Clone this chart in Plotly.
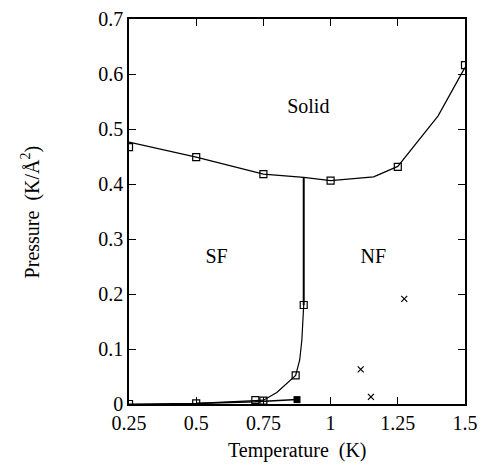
import plotly.graph_objects as go

# Solid / liquid boundary (line) and simulated points (squares)
melt_T = [0.25, 0.5, 0.75, 0.9, 1.0, 1.16, 1.25, 1.4, 1.5]
melt_P = [0.476, 0.449, 0.418, 0.412, 0.406, 0.413, 0.432, 0.524, 0.612]
melt_pts_T = [0.25, 0.5, 0.75, 1.0, 1.25, 1.5]
melt_pts_P = [0.467, 0.449, 0.418, 0.406, 0.431, 0.616]

# SF / NF boundary (vertical line)
lam_T = [0.9, 0.9]
lam_P = [0.18, 0.412]

# Lower (vapour) curve
vap_T = [0.25, 0.5, 0.72, 0.75, 0.8, 0.87, 0.885, 0.893, 0.9]
vap_P = [0.0, 0.001, 0.006, 0.007, 0.021, 0.052, 0.08, 0.116, 0.18]
vap_pts_T = [0.25, 0.5, 0.72, 0.75, 0.87, 0.9]
vap_pts_P = [0.0, 0.001, 0.007, 0.006, 0.052, 0.18]

# Second lower line ending in a filled square
low_T = [0.5, 0.72, 0.875]
low_P = [0.001, 0.004, 0.008]

# Crosses
x_T = [1.274, 1.112, 1.15]
x_P = [0.191, 0.063, 0.013]

# Region labels
lab_text = ["Solid", "SF", "NF"]
lab_T = [0.917, 0.576, 1.159]
lab_P = [0.538, 0.265, 0.265]

xticks = [0.25, 0.5, 0.75, 1.0, 1.25, 1.5]
xtick_text = ["0.25", "0.5", "0.75", "1", "1.25", "1.5"]
yticks = [0, 0.1, 0.2, 0.3, 0.4, 0.5, 0.6, 0.7]
ytick_text = ["0", "0.1", "0.2", "0.3", "0.4", "0.5", "0.6", "0.7"]

FONT = "Liberation Serif"
FS = 20
fig = go.Figure()
fig.add_trace(go.Scatter(x=melt_T, y=melt_P, mode="lines",
                         line=dict(color="black", width=1.2)))
fig.add_trace(go.Scatter(x=melt_pts_T, y=melt_pts_P, mode="markers",
                         marker=dict(symbol="square-open", size=7, color="black",
                                     line=dict(width=1.2))))
fig.add_trace(go.Scatter(x=lam_T, y=lam_P, mode="lines",
                         line=dict(color="black", width=2)))
fig.add_trace(go.Scatter(x=vap_T, y=vap_P, mode="lines",
                         line=dict(color="black", width=1.2)))
fig.add_trace(go.Scatter(x=vap_pts_T, y=vap_pts_P, mode="markers",
                         marker=dict(symbol="square-open", size=7, color="black",
                                     line=dict(width=1.2))))
fig.add_trace(go.Scatter(x=low_T, y=low_P, mode="lines",
                         line=dict(color="black", width=1.5)))
fig.add_trace(go.Scatter(x=low_T[-1:], y=low_P[-1:], mode="markers",
                         marker=dict(symbol="square", size=7, color="black")))
fig.add_trace(go.Scatter(x=x_T, y=x_P, mode="markers",
                         marker=dict(symbol="x-thin-open", size=6, color="black",
                                     line=dict(width=1.2, color="black"))))
fig.add_trace(go.Scatter(x=lab_T, y=lab_P, mode="text", text=lab_text,
                         textfont=dict(family=FONT, size=FS, color="black")))

axis_common = dict(showgrid=False, zeroline=False, showline=True, linecolor="black",
                   linewidth=1.5, mirror="ticks", ticks="inside", ticklen=7,
                   tickcolor="black", automargin=False,
                   tickfont=dict(family=FONT, size=FS, color="black"))
fig.update_xaxes(range=[0.25, 1.5], tickvals=xticks, ticktext=xtick_text, **axis_common)
fig.update_yaxes(range=[0, 0.7], tickvals=yticks, ticktext=ytick_text, **axis_common)
fig.add_annotation(text="Temperature  (K)", xref="paper", yref="paper", x=0.5, y=-0.12,
                   showarrow=False, xanchor="center", yanchor="middle",
                   font=dict(family=FONT, size=FS, color="black"))
fig.add_annotation(text="Pressure  (K/Å<sup>2</sup>)", xref="paper", yref="paper",
                   x=-0.292, y=0.5, textangle=-90, showarrow=False,
                   xanchor="center", yanchor="middle",
                   font=dict(family=FONT, size=FS, color="black"))
fig.update_layout(width=479, height=464, showlegend=False,
                  font=dict(family=FONT, size=FS, color="black"),
                  plot_bgcolor="white", paper_bgcolor="white",
                  margin=dict(l=129, r=14, t=19, b=60))
fig.write_html("out.html")
